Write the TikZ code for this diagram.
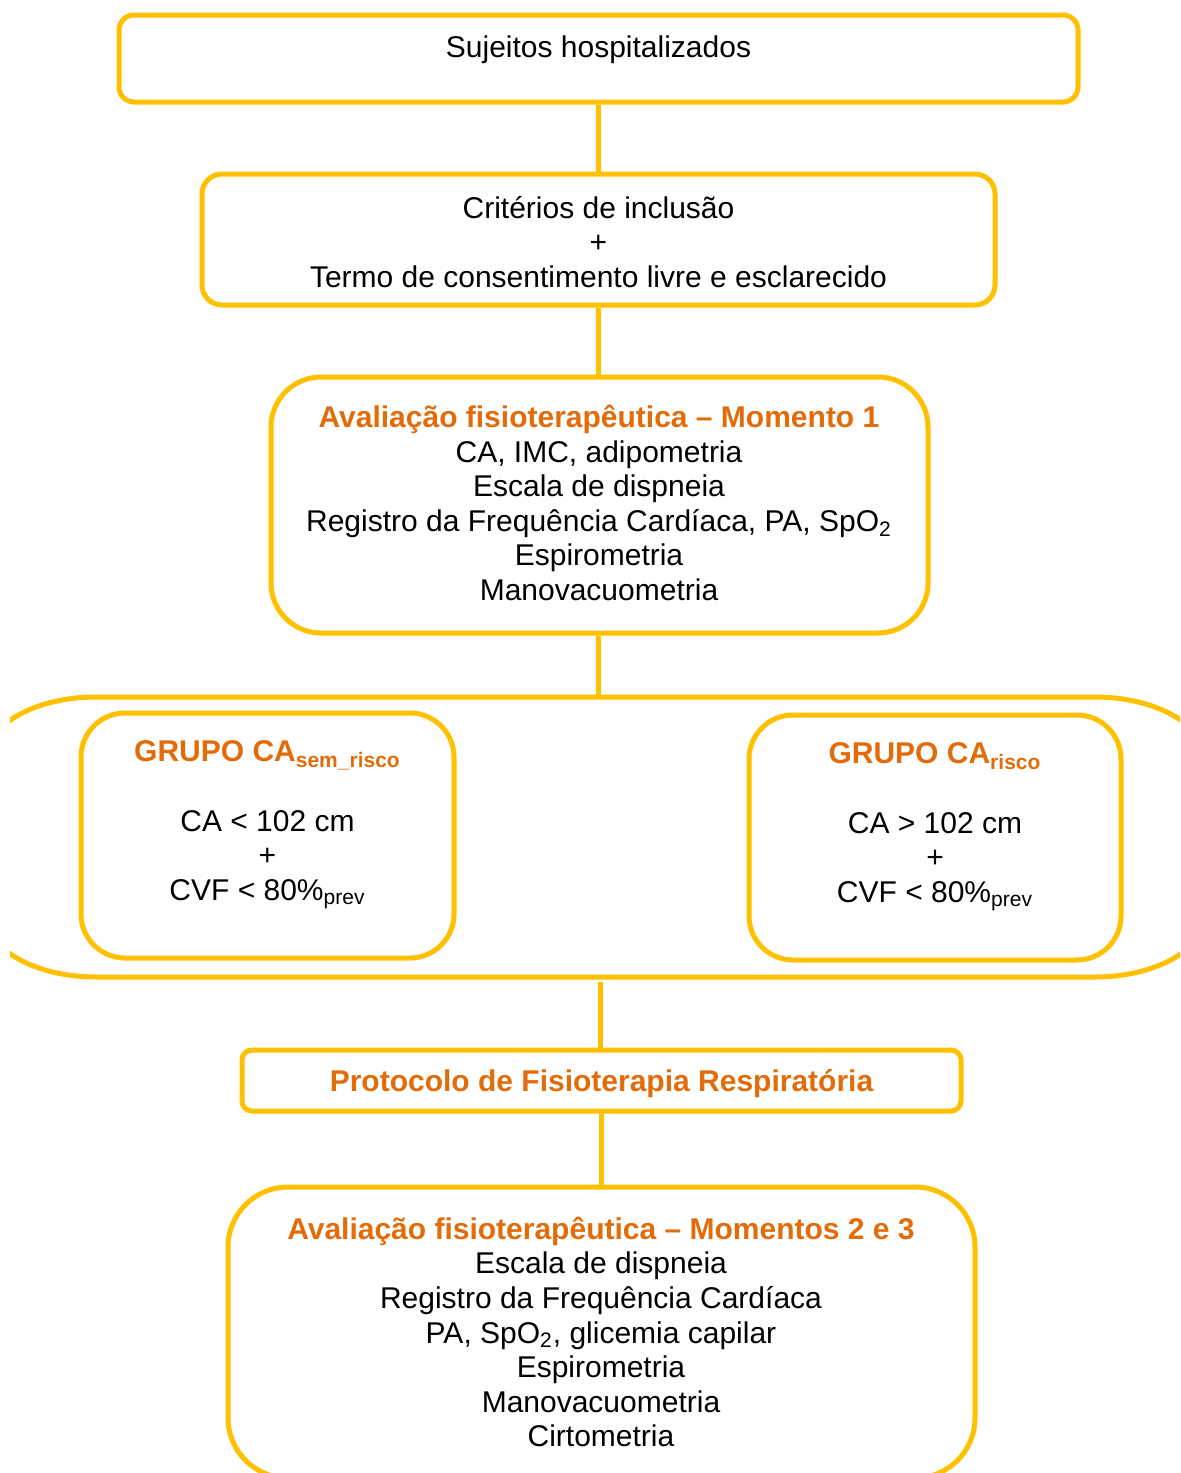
\documentclass[tikz,border=0pt]{standalone}
\usepackage{fontspec}
\setmainfont{Liberation Sans}
\definecolor{ylw}{HTML}{FFC000}
\definecolor{org}{HTML}{E36C0A}
\begin{document}
\begin{tikzpicture}[x=0.5pt,y=-0.5pt,
  box/.style={draw=ylw,line width=2.5pt,rectangle,inner sep=0pt},
  txt/.style={inner sep=0pt,align=center,font=\fontsize{15pt}{17.3pt}\selectfont},
  conn/.style={draw=ylw,line width=2.5pt}]
\useasboundingbox (0,0) rectangle (1180,1473);
\fill[white] (0,0) rectangle (1180,1473);
% boxes
\node[box,rounded corners=7.5pt,minimum width=479.5pt,minimum height=43.5pt] (b1) at (598.5,58.5) {};
\node[box,rounded corners=10pt,minimum width=396.5pt,minimum height=65.5pt] (b2) at (598.5,239.5) {};
\node[box,rounded corners=25pt,minimum width=328.5pt,minimum height=128pt] (b3) at (599.5,505) {};
\node[box,rounded corners=22pt,minimum width=186.5pt,minimum height=122.5pt] (g1) at (267.5,835.5) {};
\node[box,rounded corners=22pt,minimum width=186pt,minimum height=122.5pt] (g2) at (935,837.5) {};
\node[box,rounded corners=5pt,minimum width=359.5pt,minimum height=30.5pt] (p) at (601.5,1080.5) {};
\begin{scope}
\clip (0,0) rectangle (1180,1473);
\node[box,rounded corners=30pt,minimum width=373.5pt,minimum height=145.5pt] (b4) at (601.5,1332.5) {};
\end{scope}
% outer bracket shape
\begin{scope}
\clip (10,600) rectangle (1180,1000);
\draw[ylw,line width=2.5pt] (96,697) -- (1095,697)
  arc[start angle=-90,end angle=0,x radius=110,y radius=62] -- (1205,915)
  arc[start angle=0,end angle=90,x radius=110,y radius=62] -- (96,977)
  arc[start angle=90,end angle=180,x radius=110,y radius=62] -- (-14,759)
  arc[start angle=180,end angle=270,x radius=110,y radius=62] -- cycle;
\end{scope}
\coordinate (otop) at (598.5,697);
\coordinate (obot) at (600,982);
% connectors
\draw[conn] (b1.south) -- (b2.north);
\draw[conn] (b2.south) -- (b2.south |- b3.north);
\draw[conn] (b3.south -| otop) -- (otop);
\draw[conn] (obot) -- (obot |- p.north);
\draw[conn] (p.south) -- (p.south |- b4.north);
% texts
\node[txt] (t1) at (598.5,50) {Sujeitos hospitalizados};
\node[txt] (t2) at (598.5,242) {Critérios de inclusão\\+\\Termo de consentimento livre e esclarecido};
\node[txt] (t3) at (599,503) {{\bfseries\color{org}Avaliação fisioterapêutica – Momento 1}\\CA, IMC, adipometria\\Escala de dispneia\\Registro da Frequência Cardíaca, PA, SpO\textsubscript{2}\\Espirometria\\Manovacuometria};
\node[txt] (tg1) at (267.5,825) {{\bfseries\color{org}GRUPO CA\textsubscript{sem\_risco}}\\[17.3pt]CA < 102 cm\\+\\CVF < 80\%\textsubscript{prev}};
\node[txt] (tg2) at (935,827) {{\bfseries\color{org}GRUPO CA\textsubscript{risco}}\\[17.3pt]CA > 102 cm\\+\\CVF < 80\%\textsubscript{prev}};
\node[txt] (tp) at (601.5,1084) {\bfseries\color{org}Protocolo de Fisioterapia Respiratória};
\node[txt] (t4) at (601,1332) {{\bfseries\color{org}Avaliação fisioterapêutica – Momentos 2 e 3}\\Escala de dispneia\\Registro da Frequência Cardíaca\\PA, SpO\textsubscript{2}, glicemia capilar\\Espirometria\\Manovacuometria\\Cirtometria};
\end{tikzpicture}
\end{document}
